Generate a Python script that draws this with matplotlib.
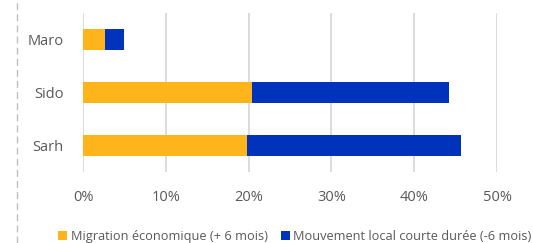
import numpy as np
import matplotlib.pyplot as plt
from matplotlib.lines import Line2D

# values (percent)
villes = ["Sarh", "Sido", "Maro"]
migration = [19.8, 20.4, 2.7]
mouvement = [25.9, 23.8, 2.3]
ticks = [0, 10, 20, 30, 40, 50]
labels = ["Migration économique (+ 6 mois)", "Mouvement local courte durée (-6 mois)"]

orange = "#FDB51B"
bleu = "#0033BB"
gris = "#595959"

plt.rcParams["font.family"] = ["Open Sans", "DejaVu Sans"]

fig = plt.figure(figsize=(5.33, 2.43), dpi=100)
ax = fig.add_axes([83/533, 1-172/243, 414/533, 159/243])

y = np.arange(len(villes))
ax.barh(y, migration, height=0.4, color=orange, label=labels[0], zorder=3)
ax.barh(y, mouvement, left=migration, height=0.4, color=bleu, label=labels[1], zorder=3)

ax.set_xlim(0, 50)
ax.set_ylim(-0.5, 2.5)
ax.set_xticks(ticks)
ax.set_xticklabels(["{0}%".format(t) for t in ticks])
ax.set_yticks(y)
ax.set_yticklabels(villes)
ax.tick_params(length=0, labelsize=10.5, colors=gris)
ax.tick_params(axis="x", pad=13)
ax.tick_params(axis="y", pad=14)
ax.grid(axis="x", color="#D9D9D9", linewidth=1.3, zorder=0)
for s in ax.spines.values():
    s.set_visible(False)

fig.add_artist(Line2D([17/533, 17/533], [0, 1], color="#BFBFBF", linewidth=1,
                      dashes=(5, 3), transform=fig.transFigure))

fig.legend(loc="center left", bbox_to_anchor=(58/533, 1-236/243), ncol=2,
           frameon=False, fontsize=9.2, labelcolor=gris, handlelength=0.7,
           handleheight=0.7, handletextpad=0.3, columnspacing=1.0,
           borderpad=0, borderaxespad=0)

fig.savefig("out.png", dpi=100)
